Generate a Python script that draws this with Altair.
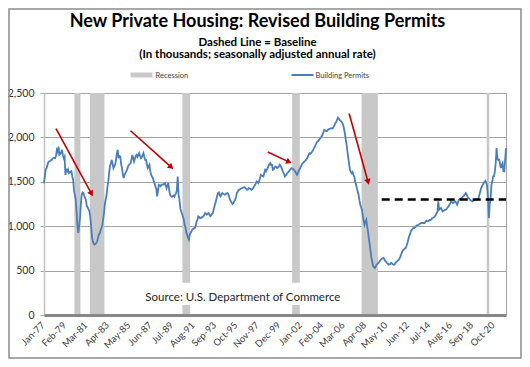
import math
import altair as alt
import pandas as pd

# ---------------- data ----------------
# Monthly new private housing building permits, thousands (SAAR), Jan-1977 .. Dec-2021
permits = [
    1485, 1560, 1640, 1654, 1690, 1720, 1729, 1735, 1745, 1747, 1760, 1770,  # 1977
    1770, 1766, 1790, 1860, 1840, 1897, 1803, 1810, 1830, 1860, 1800, 1766,  # 1978
    1785, 1578, 1635, 1620, 1640, 1597, 1605, 1617, 1620, 1560, 1523, 1400,  # 1979
    1354, 1300, 1160, 1010, 924, 1000, 1092, 1250, 1354, 1380, 1373, 1340,   # 1980
    1317, 1290, 1223, 1210, 1190, 1167, 1100, 1000, 880, 830, 800, 792,      # 1981
    800, 811, 830, 870, 904, 920, 950, 980, 1010, 1080, 1148, 1250,          # 1982
    1300, 1354, 1440, 1504, 1600, 1680, 1710, 1747, 1700, 1654, 1680, 1691,  # 1983
    1750, 1820, 1860, 1766, 1790, 1785, 1700, 1654, 1580, 1542, 1580, 1600,  # 1984
    1617, 1640, 1673, 1690, 1700, 1710, 1750, 1803, 1770, 1729, 1760, 1790,  # 1985
    1803, 1780, 1800, 1822, 1790, 1766, 1780, 1800, 1822, 1780, 1747, 1747,  # 1986
    1700, 1654, 1670, 1691, 1620, 1578, 1560, 1542, 1510, 1480, 1448, 1420,  # 1987
    1336, 1400, 1466, 1460, 1450, 1466, 1470, 1466, 1475, 1485, 1460, 1429,  # 1988
    1460, 1485, 1410, 1354, 1340, 1330, 1336, 1345, 1330, 1354, 1370, 1410,  # 1989
    1560, 1354, 1300, 1200, 1167, 1140, 1111, 1080, 1017, 990, 930, 904,     # 1990
    870, 848, 900, 924, 940, 961, 970, 975, 980, 1000, 1055, 1070,           # 1991
    1111, 1105, 1092, 1092, 1100, 1105, 1111, 1130, 1148, 1140, 1129, 1140,  # 1992
    1148, 1130, 1111, 1120, 1140, 1148, 1190, 1230, 1260, 1300, 1340, 1373,  # 1993
    1380, 1350, 1336, 1360, 1373, 1365, 1360, 1354, 1360, 1370, 1373, 1360,  # 1994
    1330, 1298, 1280, 1265, 1249, 1260, 1285, 1298, 1330, 1373, 1390, 1410,  # 1995
    1410, 1420, 1425, 1429, 1435, 1438, 1440, 1430, 1420, 1410, 1415, 1429,  # 1996
    1425, 1420, 1410, 1415, 1430, 1448, 1460, 1480, 1504, 1495, 1485, 1510,  # 1997
    1540, 1578, 1570, 1565, 1560, 1600, 1635, 1620, 1640, 1654, 1680, 1700,  # 1998
    1710, 1690, 1691, 1635, 1640, 1660, 1673, 1665, 1654, 1660, 1675, 1691,  # 1999
    1680, 1660, 1635, 1610, 1590, 1560, 1570, 1585, 1597, 1610, 1620, 1635,  # 2000
    1645, 1654, 1650, 1640, 1630, 1617, 1600, 1578, 1590, 1620, 1640, 1654,  # 2001
    1680, 1700, 1710, 1720, 1729, 1740, 1750, 1766, 1790, 1810, 1822, 1815,  # 2002
    1830, 1841, 1860, 1880, 1897, 1920, 1940, 1954, 1960, 1972, 1990, 2000,  # 2003
    2010, 2030, 2060, 2084, 2080, 2073, 2070, 2085, 2090, 2096, 2100, 2103,  # 2004
    2100, 2103, 2120, 2141, 2160, 2178, 2200, 2223, 2210, 2197, 2185, 2178,  # 2005
    2160, 2141, 2100, 2047, 1980, 1920, 1840, 1766, 1700, 1635, 1610, 1597,  # 2006
    1610, 1578, 1560, 1504, 1470, 1429, 1390, 1354, 1290, 1242, 1210, 1186,  # 2007
    1111, 1060, 1017, 1050, 1073, 1000, 943, 860, 792, 720, 643, 600,        # 2008
    549, 540, 530, 545, 567, 575, 587, 595, 610, 624, 630, 640,              # 2009
    643, 630, 612, 600, 587, 580, 567, 570, 575, 587, 580, 570,              # 2010
    565, 567, 585, 595, 605, 615, 624, 640, 662, 690, 718, 730,              # 2011
    740, 748, 755, 780, 811, 850, 886, 910, 943, 960, 970, 980,              # 2012
    980, 990, 1000, 1010, 1012, 1017, 1025, 1030, 1036, 1036, 1040, 1036,    # 2013
    1036, 1050, 1062, 1058, 1055, 1060, 1073, 1070, 1080, 1092, 1095, 1100,  # 2014
    1111, 1125, 1148, 1160, 1280, 1186, 1195, 1205, 1190, 1167, 1175, 1180,  # 2015
    1185, 1186, 1200, 1212, 1225, 1242, 1260, 1280, 1270, 1260, 1265, 1280,  # 2016
    1280, 1260, 1242, 1270, 1298, 1305, 1310, 1317, 1325, 1336, 1345, 1360,  # 2017
    1373, 1360, 1336, 1320, 1310, 1298, 1290, 1285, 1280, 1290, 1295, 1298,  # 2018
    1300, 1298, 1300, 1320, 1354, 1390, 1429, 1450, 1470, 1485, 1500, 1511,  # 2019
    1490, 1450, 1317, 1092, 1250, 1298, 1466, 1500, 1560, 1560, 1617, 1710,  # 2020
    1879, 1760, 1747, 1750, 1700, 1654, 1690, 1710, 1620, 1617, 1750, 1879,  # 2021
]
first_month = "1977-01-01"

recession_start = ["1980-01-01", "1981-07-01", "1990-07-01", "2001-03-01", "2007-12-01", "2020-02-01"]
recession_end = ["1980-07-01", "1982-11-01", "1991-03-01", "2001-11-01", "2009-06-01", "2020-04-01"]

baseline_value = 1300
baseline_start = "2009-11-01"
baseline_end = "2021-12-01"

arrow_start_date = ["1978-03-01", "1985-06-01", "1998-10-01", "2006-09-01"]
arrow_start_value = [2100, 2075, 1835, 2270]
arrow_end_date = ["1981-10-01", "1989-08-01", "2001-02-01", "2008-08-01"]
arrow_end_value = [1336, 1643, 1710, 1466]

tick_labels = ["Jan-77", "Feb-79", "Mar-81", "Apr-83", "May-85", "Jun-87", "Jul-89", "Aug-91",
               "Sep-93", "Oct-95", "Nov-97", "Dec-99", "Jan-02", "Feb-04", "Mar-06", "Apr-08",
               "May-10", "Jun-12", "Jul-14", "Aug-16", "Sep-18", "Oct-20"]
x_label_every = 25  # months between x-axis labels
y_ticks = [0, 500, 1000, 1500, 2000, 2500]

title = "New Private Housing: Revised Building Permits"
subtitle1 = "Dashed Line = Baseline"
subtitle2 = "(In thousands; seasonally adjusted annual rate)"
source_text = "Source: U.S. Department of Commerce"
source_date = "1996-05-01"
source_value = 160
source_box = ("1986-04-15", "2006-05-15", 112, 362)

# ---------------- layout / style ----------------
W, H = 462, 222
YMAX = 2500
FONT = "Lato"
BLUE = "#4a7ebb"
RED = "#c00000"
GRAY_BAR = "#c8c8c8"

start_ts = pd.Timestamp(first_month)


def midx(d):
    """month index (0 = first month) of a date, fractional within month"""
    t = pd.Timestamp(d)
    return (t.year - start_ts.year) * 12 + (t.month - start_ts.month) + (t.day - 1) / t.days_in_month


n = len(permits)
df = pd.DataFrame({"m": list(range(n)), "permits": permits})

rec_df = pd.DataFrame({
    "start": [midx(s) - 0.5 for s in recession_start],
    "end": [midx(e) + 0.5 for e in recession_end],
    "top": [YMAX] * len(recession_start),
    "bottom": [0] * len(recession_start),
})

x_scale = alt.Scale(domain=[0, n - 1], nice=False, zero=False)
y_scale = alt.Scale(domain=[0, YMAX], nice=False, zero=True)

x_axis = alt.Axis(
    values=[i * x_label_every for i in range(len(tick_labels))],
    labels=False, ticks=False, grid=False,
    domainColor="#878787", domainWidth=3, zindex=1,
)
y_axis = alt.Axis(
    values=y_ticks, labelExpr="format(datum.value, ',')", labelFont=FONT, labelFontSize=10.5,
    labelColor="#333333", tickSize=4, tickColor="#a6a6a6", labelPadding=6,
    domainColor="#c0c0c0", domainWidth=1.5, grid=True, gridColor="#a3a3a3", gridWidth=1,
    labelOverlap=False,
)

# recession bands (first layer, carries the axes)
rec = alt.Chart(rec_df).mark_rect(color=GRAY_BAR).encode(
    x=alt.X("start:Q", scale=x_scale, axis=x_axis, title=None), x2="end:Q",
    y=alt.Y("top:Q", scale=y_scale, axis=y_axis, title=None), y2="bottom:Q",
)

# white box behind the source note
box_df = pd.DataFrame({"x1": [midx(source_box[0])], "x2": [midx(source_box[1])],
                       "y1": [source_box[2]], "y2": [source_box[3]]})
box = alt.Chart(box_df).mark_rect(color="white").encode(
    x=alt.X("x1:Q", title=None), x2="x2:Q", y=alt.Y("y1:Q", title=None), y2="y2:Q")

src_df = pd.DataFrame({"d": [midx(source_date)], "v": [source_value], "t": [source_text]})
src = alt.Chart(src_df).mark_text(font=FONT, fontSize=11.5, color="#262626", align="center",
                                  baseline="alphabetic").encode(
    x=alt.X("d:Q", title=None), y=alt.Y("v:Q", title=None), text="t:N")

line = alt.Chart(df).mark_line(color=BLUE, strokeWidth=1.8).encode(
    x=alt.X("m:Q", title=None), y=alt.Y("permits:Q", title=None))

base_df = pd.DataFrame({"s": [midx(baseline_start)], "e": [midx(baseline_end)], "v": [baseline_value]})
baseline = alt.Chart(base_df).mark_rule(color="black", strokeWidth=2.6, strokeDash=[8, 5]).encode(
    x=alt.X("s:Q", title=None), x2="e:Q", y=alt.Y("v:Q", title=None))

# x-axis tick labels, rotated
xlab_df = pd.DataFrame({"m": [i * x_label_every for i in range(len(tick_labels))], "t": tick_labels})
xlabels = alt.Chart(xlab_df).mark_text(angle=315, align="right", baseline="middle", font=FONT,
                                       fontSize=9.5, color="#404040", dx=-1).encode(
    x=alt.X("m:Q", title=None), y=alt.value(H + 8), text="t:N")

# arrows: shaft + rotated triangle head
px_per_month = W / (n - 1)
px_per_unit = H / YMAX
rows = []
for sd, sv, ed, ev in zip(arrow_start_date, arrow_start_value, arrow_end_date, arrow_end_value):
    s, e = midx(sd), midx(ed)
    dx = (e - s) * px_per_month
    dy = -(ev - sv) * px_per_unit  # screen y grows downward
    length = math.hypot(dx, dy)
    ux, uy = dx / length, dy / length
    ang = math.degrees(math.atan2(dx, -dy)) % 360
    back = 3.0
    hx = e - back * ux / px_per_month
    hv = ev + back * uy / px_per_unit
    rows.append({"sx": s, "sv": sv, "ex": hx, "ev": hv, "ang": ang})
arr_df = pd.DataFrame(rows)

shafts = alt.Chart(arr_df).mark_rule(color=RED, strokeWidth=1.6).encode(
    x=alt.X("sx:Q", title=None), y=alt.Y("sv:Q", title=None), x2="ex:Q", y2="ev:Q")
heads = alt.Chart(arr_df).mark_point(shape="triangle-up", filled=True, size=42, color=RED,
                                     opacity=1).encode(
    x=alt.X("ex:Q", title=None), y=alt.Y("ev:Q", title=None),
    angle=alt.Angle("ang:Q", scale=None))

# titles, legend, frame (fixed-position decorations)
one = alt.Data(values=[{}])


def label(text, x, y, size, weight="normal", align="center", color="black"):
    return alt.Chart(one).mark_text(text=text, font=FONT, fontSize=size, fontWeight=weight,
                                    align=align, baseline="alphabetic", color=color).encode(
        x=alt.value(x), y=alt.value(y))


t1 = label(title, 213.5, -66, 18, "bold")
t2 = label(subtitle1, 213.5, -47.5, 11.5, "bold")
t3 = label(subtitle2, 213.5, -35.5, 11.5, "bold")

leg_rec = alt.Chart(one).mark_rect(color=GRAY_BAR).encode(
    x=alt.value(86.5), x2=alt.value(108.5), y=alt.value(-20.5), y2=alt.value(-15.5))
leg_rec_t = label("Recession", 111.5, -15.5, 7.5, align="left", color="#404040")
leg_line = alt.Chart(one).mark_rule(color=BLUE, strokeWidth=2).encode(
    x=alt.value(247.5), x2=alt.value(269.5), y=alt.value(-18))
leg_line_t = label("Building Permits", 271.5, -15.5, 7.5, align="left", color="#404040")

frame = alt.Chart(one).mark_rect(fillOpacity=0, stroke="#8c8c8c", strokeWidth=1.5).encode(
    x=alt.value(-35), x2=alt.value(477), y=alt.value(-84), y2=alt.value(265))

chart = alt.layer(
    rec, box, src, line, baseline, shafts, heads, xlabels,
    t1, t2, t3, leg_rec, leg_rec_t, leg_line, leg_line_t, frame,
).properties(
    width=W, height=H,
    autosize=alt.AutoSizeParams(type="none"),
    padding={"left": 36, "top": 85, "right": 16, "bottom": 44},
    background="white",
).configure_view(stroke="#a6a6a6", strokeWidth=1)

chart.save("out.html", embed_options={"renderer": "svg", "actions": False})
